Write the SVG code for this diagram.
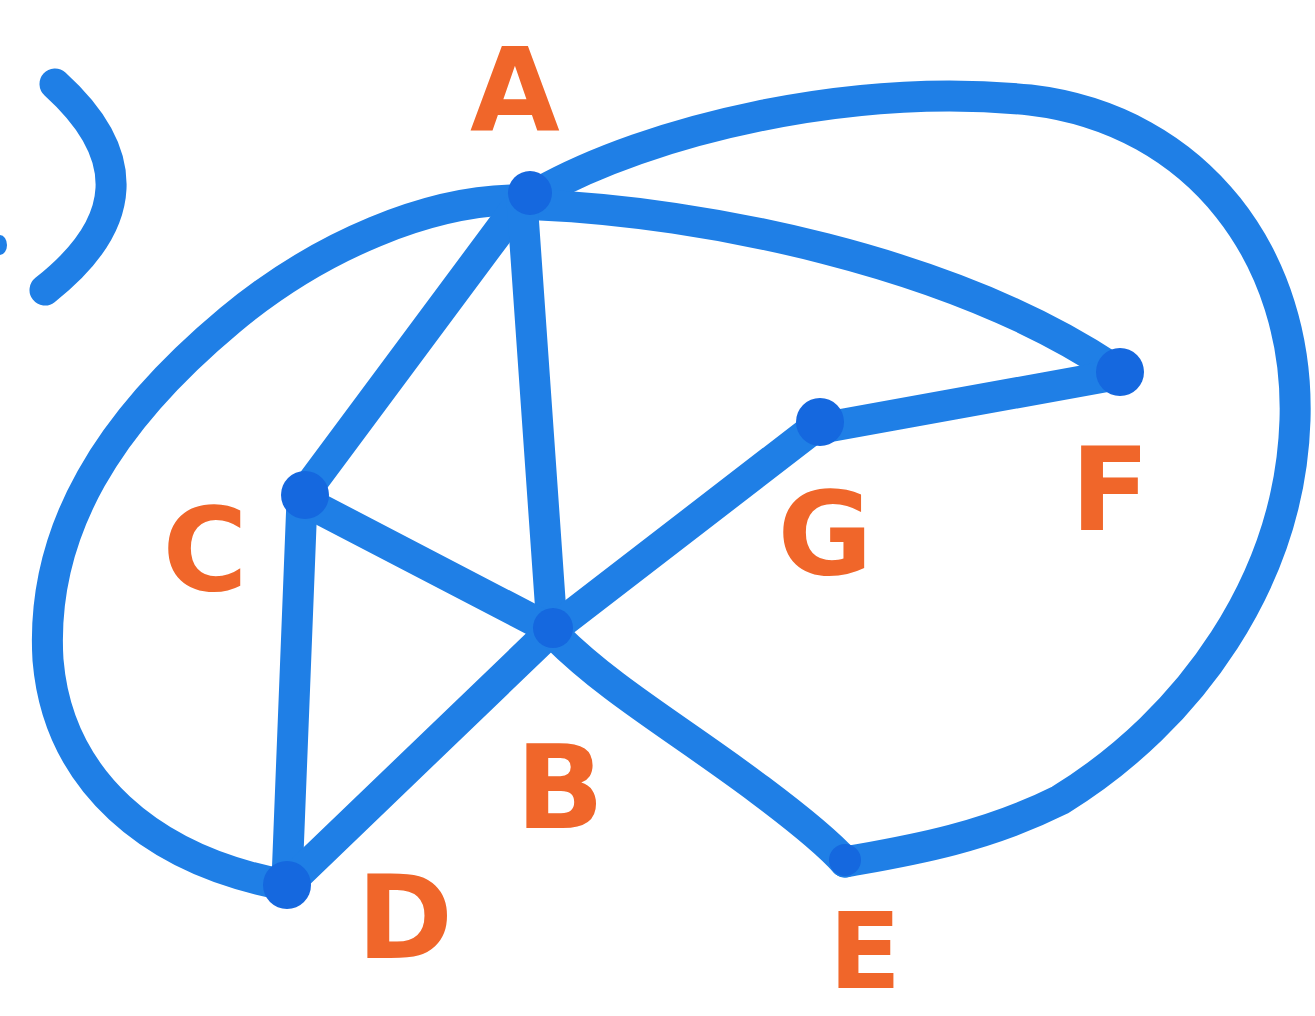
<svg xmlns="http://www.w3.org/2000/svg" width="1315" height="1016" viewBox="0 0 1315 1016">
<style>
.e{fill:none;stroke:#1f7fe6;stroke-width:31;stroke-linecap:round;stroke-linejoin:round}
.n{fill:#1568df}
.l{font-family:"DejaVu Sans","Liberation Sans",sans-serif;font-weight:bold;font-size:116px;fill:#f0662a;text-anchor:middle}
</style>
<rect width="1315" height="1016" fill="#ffffff"/>
<g id="bracket">
<path class="e" d="M55,84 Q172,190 45,290" stroke-width="24"/>
<ellipse cx="0" cy="245" rx="7" ry="10" fill="#1f7fe6"/>
</g>
<g id="connectors">
<path class="e" d="M518,200 C430,200 320,245 230,320 C110,420 40,530 48,660 C58,780 150,860 285,885"/>
<path class="e" d="M538,193 C650,130 850,82 1030,100 C1200,120 1300,260 1295,420 C1290,580 1190,720 1060,800 C980,840 900,852 845,862"/>
<path class="e" d="M540,205 C700,212 950,260 1112,368"/>
<path class="e" d="M522,200 L305,492"/>
<path class="e" d="M522,200 L552,628"/>
<path class="e" d="M302,500 L287,880"/>
<path class="e" d="M312,505 L552,630"/>
<path class="e" d="M552,630 L292,880"/>
<path class="e" d="M552,630 L822,422"/>
<path class="e" d="M822,428 L1115,375"/>
<path class="e" d="M556,636 C610,690 680,730 760,790 C800,820 830,845 845,862"/>
</g>
<g id="A"><circle class="n" cx="530" cy="193" r="22"/><text class="l" x="515" y="130">A</text></g>
<g id="C"><circle class="n" cx="305" cy="495" r="24"/><text class="l" x="205" y="590">C</text></g>
<g id="B"><circle class="n" cx="553" cy="628" r="20"/><text class="l" x="560" y="828">B</text></g>
<g id="D"><circle class="n" cx="287" cy="885" r="24"/><text class="l" x="405" y="958">D</text></g>
<g id="E"><circle class="n" cx="845" cy="860" r="16"/><text class="l" x="865" y="988" style="font-size:106px">E</text></g>
<g id="G"><circle class="n" cx="820" cy="422" r="24"/><text class="l" x="825" y="574">G</text></g>
<g id="F"><circle class="n" cx="1120" cy="372" r="24"/><text class="l" x="1110" y="530">F</text></g>
</svg>
